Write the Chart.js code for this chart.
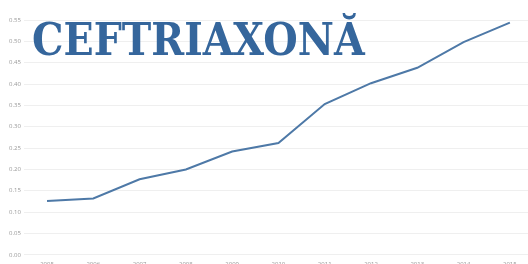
<!DOCTYPE html>
<html>
<head>
<meta charset="utf-8">
<script src="https://cdn.jsdelivr.net/npm/chart.js@4"></script>
<style>
  html, body { margin:0; padding:0; background:#fff; overflow:hidden; width:528px; height:264px; }
  #wrap { position:relative; width:528px; height:264px; overflow:hidden; }
  #title { position:absolute; left:32px; top:18px; font-family:"DejaVu Serif Condensed", "DejaVu Serif", serif; font-weight:bold;
           font-size:44px; color:#35669c; letter-spacing:0px; white-space:nowrap; line-height:1; pointer-events:none; }
</style>
</head>
<body>
<div id="wrap">
  <canvas id="c" width="533" height="274"></canvas>
  <div id="title">CEFTRIAXONĂ</div>
</div>
<script>
const titleText = "CEFTRIAXONĂ";
const years = ["2005","2006","2007","2008","2009","2010","2011","2012","2013","2014","2015"];
const values = [0.126, 0.132, 0.177, 0.200, 0.242, 0.262, 0.353, 0.402, 0.438, 0.498, 0.544];
const yTicks = [0,0.05,0.10,0.15,0.20,0.25,0.30,0.35,0.40,0.45,0.50,0.55];

document.getElementById('title').textContent = titleText;

new Chart(document.getElementById('c'), {
  type: 'line',
  data: {
    labels: years,
    datasets: [{
      data: values,
      borderColor: '#4e79a7',
      borderWidth: 2,
      pointRadius: 0,
      tension: 0,
      fill: false
    }]
  },
  options: {
    responsive: false,
    animation: false,
    layout: { padding: { top: 20, right: 0, left: 6, bottom: 0 } },
    plugins: { legend: { display: false }, tooltip: { enabled: false } },
    scales: {
      x: {
        offset: true,
        grid: { display: false, drawTicks: false, tickLength: 0 },
        border: { display: false },
        ticks: { color: '#999', font: { family: 'Open Sans', size: 6 }, padding: 6, maxRotation: 0 }
      },
      y: {
        min: 0, max: 0.55,
        afterBuildTicks: (axis) => { axis.ticks = yTicks.map(v => ({ value: v })); },
        grid: { color: '#efefef', lineWidth: 1, drawTicks: false },
        border: { display: false },
        ticks: { color: '#999', font: { family: 'Open Sans', size: 6 }, padding: 3,
                 callback: (v) => Number(v).toFixed(2) }
      }
    }
  }
});
</script>
</body>
</html>
